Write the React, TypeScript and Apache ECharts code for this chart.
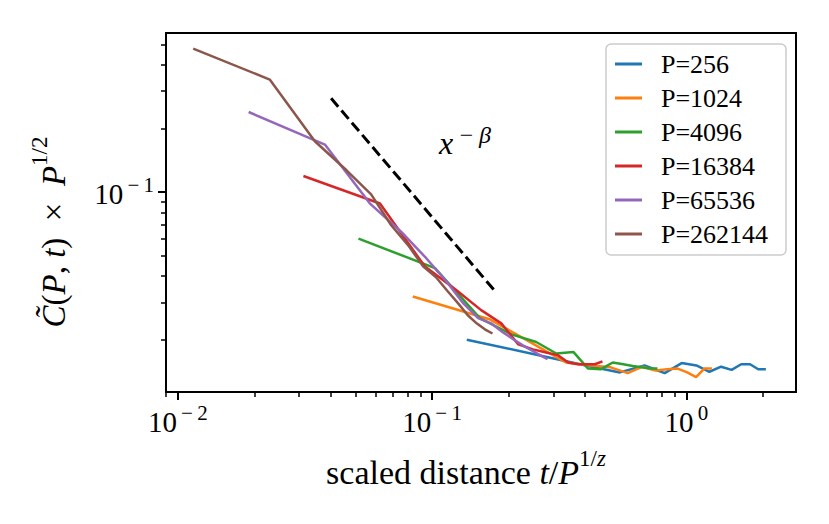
import React, { useEffect, useRef } from 'react';
import * as echarts from 'echarts';

const FONT = '"Liberation Serif", "DejaVu Serif", serif';

const seriesNames = ['P=256', 'P=1024', 'P=4096', 'P=16384', 'P=65536', 'P=262144'];
const seriesColors = ['#1f77b4', '#ff7f0e', '#2ca02c', '#d62728', '#9467bd', '#8c564b'];

const x256 = [0.137, 0.274, 0.411, 0.548, 0.685, 0.822, 0.959, 1.096, 1.233, 1.37, 1.507, 1.644, 1.781, 1.918, 2.055];
const y256 = [0.0200, 0.0167, 0.0150, 0.0140, 0.0151, 0.0139, 0.0155, 0.0151, 0.0141, 0.0149, 0.0144, 0.0153, 0.0153, 0.0145, 0.0145];

const x1024 = [0.084, 0.1681, 0.2521, 0.3362, 0.4202, 0.5042, 0.5883, 0.6723, 0.7564, 0.8404, 0.9244, 1.0085, 1.0925, 1.1766, 1.2606];
const y1024 = [0.0320, 0.0250, 0.0190, 0.0156, 0.0151, 0.0148, 0.0139, 0.0149, 0.0143, 0.0145, 0.0146, 0.0140, 0.0133, 0.0146, 0.0146];

const x4096 = [0.0514, 0.1027, 0.1541, 0.2054, 0.2568, 0.3081, 0.3595, 0.4108, 0.4622, 0.5135, 0.5649, 0.6162, 0.6676, 0.7189, 0.7703];
const y4096 = [0.0602, 0.0436, 0.0253, 0.0212, 0.0195, 0.0172, 0.0175, 0.0146, 0.0145, 0.0156, 0.0153, 0.0150, 0.0148, 0.0146, 0.0146];

const x16384 = [0.0312, 0.0624, 0.0936, 0.1248, 0.156, 0.1872, 0.2184, 0.2496, 0.2808, 0.312, 0.3432, 0.3744, 0.4056, 0.4368, 0.468];
const y16384 = [0.1190, 0.0882, 0.0445, 0.0343, 0.0276, 0.0239, 0.0190, 0.0180, 0.0174, 0.0169, 0.0156, 0.0153, 0.0153, 0.0153, 0.0158];

const x65536 = [0.019, 0.0379, 0.0569, 0.0759, 0.0949, 0.1138, 0.1328, 0.1518, 0.1707, 0.1897, 0.2087, 0.2276, 0.2466, 0.2656, 0.2846];
const y65536 = [0.2391, 0.1676, 0.0884, 0.0645, 0.0486, 0.0378, 0.0297, 0.0253, 0.0239, 0.0217, 0.0201, 0.0188, 0.0178, 0.0169, 0.0162];

const x262144 = [0.0115, 0.023, 0.0346, 0.0461, 0.0576, 0.0691, 0.0806, 0.0922, 0.1037, 0.1152, 0.1267, 0.1382, 0.1498, 0.1613, 0.1728];
const y262144 = [0.4773, 0.3404, 0.1738, 0.1267, 0.0975, 0.0696, 0.0559, 0.0445, 0.0395, 0.0339, 0.0297, 0.0261, 0.0239, 0.0224, 0.0214];

const guideX = [0.0401, 0.177];
const guideY = [0.2776, 0.0339];

const xMajorTicks = [0.01, 0.1, 1];
const xMinorTicks = [0.009, 0.02, 0.03, 0.04, 0.05, 0.06, 0.07, 0.08, 0.09, 0.2, 0.3, 0.4, 0.5, 0.6, 0.7, 0.8, 0.9, 2];
const yMajorTicks = [0.1];
const yMinorTicks = [0.02, 0.03, 0.04, 0.05, 0.06, 0.07, 0.08, 0.09, 0.2, 0.3, 0.4, 0.5];

const X_MIN = 0.00899;
const X_MAX = 2.7;
const Y_MIN = 0.01131;
const Y_MAX = 0.5655;

const xs = [x256, x1024, x4096, x16384, x65536, x262144];
const ys = [y256, y1024, y4096, y16384, y65536, y262144];

const powLabel = (v: number) => {
  const e = Math.round(Math.log10(v));
  return e < 0 ? `{b|10}{s|\u2009\u2212\u2009${-e}}` : `{b|10}{s|\u2009${e}}`;
};

const tickRich = {
  b: { fontSize: 29, fontFamily: FONT, color: '#000', lineHeight: 34, verticalAlign: 'bottom' },
  s: { fontSize: 21, fontFamily: FONT, color: '#000', lineHeight: 21, verticalAlign: 'top' },
};

export default function App() {
  const ref = useRef<HTMLDivElement>(null);
  useEffect(() => {
    if (!ref.current) return;
    document.body.style.margin = '0';
    const chart = echarts.init(ref.current, null, { renderer: 'svg' });
    const gridPos = { left: 166, right: 33, top: 33, bottom: 132 };
    const lineSeries = seriesNames.map((name, i) => ({
      name,
      type: 'line',
      xAxisIndex: 0,
      yAxisIndex: 0,
      data: xs[i].map((x, j) => [x, ys[i][j]]),
      showSymbol: false,
      symbol: 'none',
      lineStyle: { width: 2.5, color: seriesColors[i] },
      itemStyle: { color: seriesColors[i] },
      z: 3 + i,
    }));
    chart.setOption({
      animation: false,
      backgroundColor: '#fff',
      grid: [
        { ...gridPos, show: true, borderColor: '#000', borderWidth: 2, backgroundColor: 'transparent' },
        { ...gridPos, show: false },
      ],
      xAxis: [
        {
          type: 'log', gridIndex: 0, min: X_MIN, max: X_MAX,
          axisLine: { show: true, lineStyle: { color: '#000', width: 2 } },
          axisTick: { show: true, length: 8, lineStyle: { color: '#000', width: 2 }, customValues: xMajorTicks },
          axisLabel: { show: true, margin: 10, customValues: xMajorTicks, formatter: powLabel, rich: tickRich },
          splitLine: { show: false },
        },
        {
          type: 'log', gridIndex: 1, min: X_MIN, max: X_MAX,
          axisLine: { show: false },
          axisTick: { show: true, length: 5, lineStyle: { color: '#000', width: 1.5 }, customValues: xMinorTicks },
          axisLabel: { show: false },
          splitLine: { show: false },
        },
      ],
      yAxis: [
        {
          type: 'log', gridIndex: 0, min: Y_MIN, max: Y_MAX,
          axisLine: { show: true, lineStyle: { color: '#000', width: 2 } },
          axisTick: { show: true, length: 8, lineStyle: { color: '#000', width: 2 }, customValues: yMajorTicks },
          axisLabel: { show: true, margin: 12, customValues: yMajorTicks, formatter: powLabel, rich: tickRich },
          splitLine: { show: false },
        },
        {
          type: 'log', gridIndex: 1, min: Y_MIN, max: Y_MAX,
          axisLine: { show: false },
          axisTick: { show: true, length: 5, lineStyle: { color: '#000', width: 1.5 }, customValues: yMinorTicks },
          axisLabel: { show: false },
          splitLine: { show: false },
        },
      ],
      legend: {
        data: seriesNames,
        orient: 'vertical',
        left: 615,
        top: 51,
        icon: 'rect',
        itemWidth: 27,
        itemHeight: 3,
        itemGap: 8,
        padding: 0,
        z: 10,
        formatter: (n: string) => `{g| }{t|${n}}`,
        textStyle: {
          fontFamily: FONT, fontSize: 26, color: '#000', lineHeight: 26,
          rich: {
            g: { width: 14, fontSize: 26, lineHeight: 26 },
            t: { fontFamily: FONT, fontSize: 26, color: '#000', lineHeight: 26 },
          },
        },
      },
      series: [
        ...lineSeries,
        {
          name: 'guide',
          type: 'line',
          xAxisIndex: 0,
          yAxisIndex: 0,
          data: guideX.map((x, j) => [x, guideY[j]]),
          showSymbol: false,
          symbol: 'none',
          lineStyle: { width: 3, color: '#000', type: [11, 5] },
          z: 2,
        },
      ],
      graphic: [
        {
          type: 'rect', z: 9,
          shape: { x: 606, y: 44, width: 180, height: 211, r: 5 },
          style: { fill: 'rgba(255,255,255,0.8)', stroke: '#cccccc', lineWidth: 1.5 },
        },
        {
          type: 'text', x: 466, y: 468,
          style: {
            text: '{r|scaled distance }{i|t}{r|/}{i|P}{s|1/}{si|z}',
            align: 'center', verticalAlign: 'middle',
            rich: {
              r: { fontSize: 34, fontFamily: FONT, fill: '#000', lineHeight: 42, verticalAlign: 'bottom' },
              i: { fontSize: 34, fontFamily: FONT, fontStyle: 'italic', fill: '#000', lineHeight: 42, verticalAlign: 'bottom' },
              s: { fontSize: 23, fontFamily: FONT, fill: '#000', lineHeight: 23, verticalAlign: 'top' },
              si: { fontSize: 23, fontFamily: FONT, fontStyle: 'italic', fill: '#000', lineHeight: 23, verticalAlign: 'top' },
            },
          },
        },
        {
          type: 'text', x: 49, y: 232, rotation: Math.PI / 2,
          style: {
            text: '{i|C\u0303}{r|(}{i|P}{r|, }{i|t}{r|)  \u00d7  }{i|P}{s|1/2}',
            align: 'center', verticalAlign: 'middle',
            rich: {
              r: { fontSize: 33, fontFamily: FONT, fill: '#000', lineHeight: 42, verticalAlign: 'bottom' },
              i: { fontSize: 33, fontFamily: FONT, fontStyle: 'italic', fill: '#000', lineHeight: 42, verticalAlign: 'bottom' },
              s: { fontSize: 23, fontFamily: FONT, fill: '#000', lineHeight: 23, verticalAlign: 'top' },
            },
          },
        },
        {
          type: 'text', x: 465, y: 141,
          style: {
            text: '{i|x}{s|\u2009\u2212\u2009\u03b2}',
            align: 'center', verticalAlign: 'middle',
            rich: {
              i: { fontSize: 32, fontFamily: FONT, fontStyle: 'italic', fill: '#000', lineHeight: 36, verticalAlign: 'bottom' },
              s: { fontSize: 24, fontFamily: FONT, fontStyle: 'italic', fill: '#000', lineHeight: 24, verticalAlign: 'top' },
            },
          },
        },
      ],
    });
    return () => chart.dispose();
  }, []);
  return <div ref={ref} style={{ width: 829, height: 524 }} />;
}
